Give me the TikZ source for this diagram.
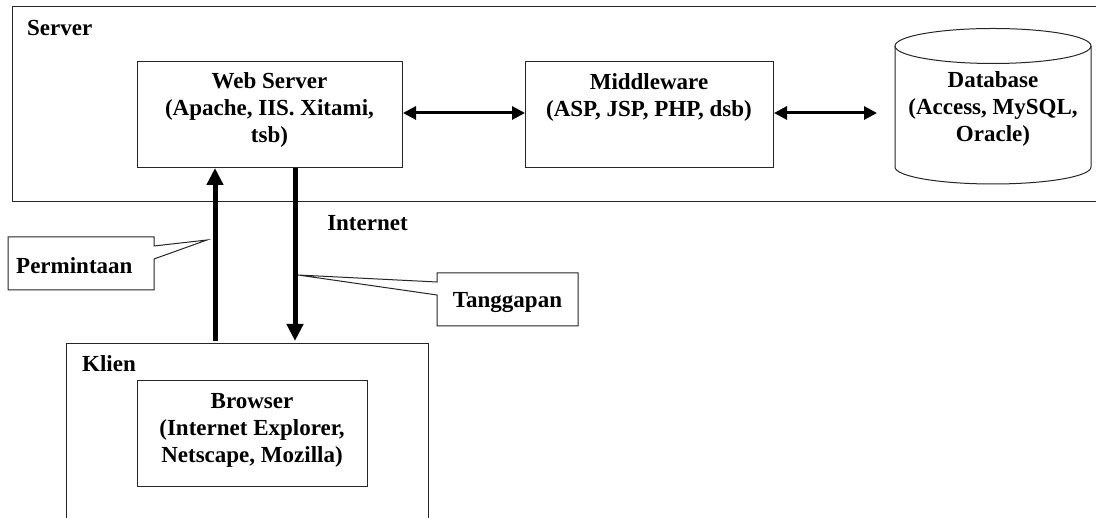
\documentclass[tikz,border=0pt]{standalone}
\usepackage{fontspec}
\setmainfont{Liberation Serif}
\usetikzlibrary{arrows.meta}
\begin{document}
\begin{tikzpicture}[x=1pt,y=1pt,
  boxline/.style={draw=black!85,line width=1pt},
  txt/.style={font=\bfseries\fontsize{23}{27}\selectfont,align=center,inner sep=0pt},
  bigarrow/.style={line width=5pt,-{Triangle[width=16pt,length=17pt]}},
  dblarrow/.style={line width=3pt,{Triangle[width=13pt,length=13pt]}-{Triangle[width=13pt,length=13pt]}}]
\useasboundingbox (0,0) rectangle (1096,518);
\fill[white] (0,0) rectangle (1096,518);

% Server frame
\draw[boxline] (12,316) rectangle (1102,511);
\node[txt,anchor=west] (serverlbl) at (27,490) {Server};

% Web server
\node[boxline,minimum width=265pt,minimum height=106pt,inner sep=0pt,anchor=north west] (ws) at (137,457) {};
\node[txt] (wstxt) at (269.5,408) {Web Server\\(Apache, IIS. Xitami,\\tsb)};

% Middleware
\node[boxline,minimum width=248pt,minimum height=106pt,inner sep=0pt,anchor=north west] (mw) at (525,457) {};
\node[txt] (mwtxt) at (649,421) {Middleware\\(ASP, JSP, PHP, dsb)};

% Database cylinder
\coordinate (dbl) at (895,405);
\draw[boxline] (895,472) -- (895,351) arc[start angle=180,end angle=360,x radius=98,y radius=17] -- (1091,472);
\draw[boxline] (993,472) ellipse[x radius=98,y radius=17.5];
\node[txt] (dbtxt) at (993,409) {Database\\(Access, MySQL,\\Oracle)};

% Horizontal arrows
\coordinate (a1) at (ws.east |- 0,405);
\coordinate (a2) at (mw.west |- 0,405);
\coordinate (a3) at (mw.east |- 0,405);
\coordinate (a4) at (877,405);
\draw[dblarrow] (a1) -- (a2);
\draw[dblarrow] (a3) -- (a4);

% Client
\draw[boxline] (66,-6) rectangle (428,174);
\node[txt,anchor=west] (klienlbl) at (82,154) {Klien};
\node[boxline,minimum width=230pt,minimum height=106pt,inner sep=0pt,anchor=north west] (br) at (137,138) {};
\node[txt] (brtxt) at (252,88) {Browser\\(Internet Explorer,\\Netscape, Mozilla)};

% Vertical arrows
\coordinate (upS) at (215,177);
\coordinate (upE) at (ws.south -| 215,0);
\coordinate (dnS) at (ws.south -| 295,0);
\coordinate (dnE) at (295,177);
\draw[bigarrow] (upS) -- (upE);
\draw[bigarrow] (dnS) -- (dnE);

\node[txt] (inet) at (367.5,295) {Internet};

% Permintaan callout
\coordinate (ptip) at (207,278);
\draw[boxline,fill=white] (8,281) -- (154,281) -- (154,272) -- (ptip) -- (154,259) -- (154,228) -- (8,228) -- cycle;
\node[txt,anchor=west] (perm) at (16,252) {Permintaan};

% Tanggapan callout
\coordinate (ttip) at (298,243);
\draw[boxline,fill=white] (437,245) -- (578,245) -- (578,192) -- (437,192) -- (437,223) -- (ttip) -- (437,236) -- cycle;
\node[txt] (tang) at (507.5,215) {Tanggapan};
\end{tikzpicture}
\end{document}
